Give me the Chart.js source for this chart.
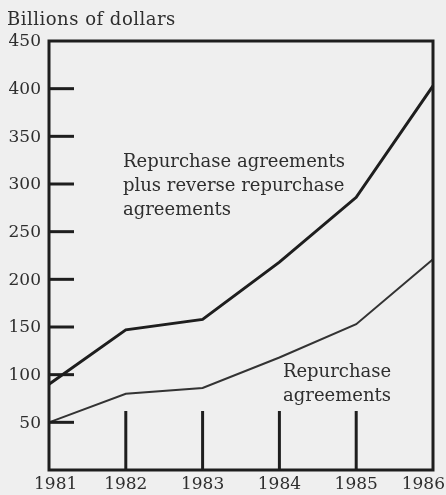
<!DOCTYPE html>
<html>
<head>
<meta charset="utf-8">
<script src="https://cdn.jsdelivr.net/npm/chart.js@4/dist/chart.umd.min.js"></script>
<style>
html,body{margin:0;padding:0;background:#efefef;}
#wrap{width:446px;height:495px;position:relative;}
</style>
</head>
<body>
<div id="wrap"><canvas id="c" width="446" height="495"></canvas></div>
<script>
const years = ["1981","1982","1983","1984","1985","1986"];
const repoPlusReverse = [90, 147, 158, 218, 286, 403];
const repoOnly = [50, 80, 86, 118, 153, 221];
const yTicks = [50,100,150,200,250,300,350,400,450];
const yTitle = "Billions of dollars";
const labelUpper = ["Repurchase agreements","plus reverse repurchase","agreements"];
const labelLower = ["Repurchase","agreements"];

const INK = '#1e1e1e';
const TXT = '#2e2e2e';
const FONT = '"DejaVu Serif",serif';

const deco = {
  id:'deco',
  afterDatasetsDraw(chart){
    const ctx = chart.ctx, a = chart.chartArea;
    const xs = chart.scales.x, ys = chart.scales.y;
    ctx.save();
    ctx.strokeStyle = INK; ctx.lineWidth = 3; ctx.lineCap='butt';
    ctx.beginPath();
    ctx.rect(a.left, a.top, a.right-a.left, a.bottom-a.top);
    ctx.stroke();
    yTicks.forEach(v=>{
      if(v>=450) return;
      const y = ys.getPixelForValue(v);
      ctx.beginPath(); ctx.moveTo(a.left, y); ctx.lineTo(a.left+25, y); ctx.stroke();
    });
    years.forEach((yr,i)=>{
      if(i===0||i===years.length-1) return;
      const x = xs.getPixelForValue(i);
      ctx.beginPath(); ctx.moveTo(x, a.bottom); ctx.lineTo(x, a.bottom-59); ctx.stroke();
    });
    ctx.fillStyle = TXT;
    ctx.font = '17px '+FONT;
    ctx.textAlign='right'; ctx.textBaseline='middle';
    yTicks.forEach(v=>{
      ctx.fillText(String(v), a.left-8, ys.getPixelForValue(v)+1);
    });
    ctx.textAlign='center'; ctx.textBaseline='middle';
    years.forEach((yr,i)=>{
      let x = xs.getPixelForValue(i);
      const w = ctx.measureText(yr).width;
      x = Math.max(x, 34 + w/2);
      x = Math.min(x, 445 - w/2);
      ctx.fillText(yr, x, a.bottom+15);
    });
    ctx.font = '18px '+FONT;
    ctx.letterSpacing = '0.5px';
    ctx.textAlign='left'; ctx.textBaseline='alphabetic';
    ctx.fillText(yTitle, 7, 25);
    ctx.letterSpacing = '0px';
    ctx.textAlign='left'; ctx.textBaseline='middle';
    labelUpper.forEach((t,k)=> ctx.fillText(t, 123, 162 + k*24));
    ctx.textAlign='center';
    labelLower.forEach((t,k)=> ctx.fillText(t, 337, 372 + k*24));
    ctx.restore();
  }
};

new Chart(document.getElementById('c'), {
  type:'line',
  data:{
    labels: years,
    datasets:[
      {data: repoPlusReverse, borderColor: INK, borderWidth: 3, pointRadius:0, tension:0, fill:false},
      {data: repoOnly, borderColor: '#333', borderWidth: 2, pointRadius:0, tension:0, fill:false}
    ]
  },
  options:{
    responsive:false, animation:false, devicePixelRatio:1,
    layout:{padding:{left:49, top:41, right:13, bottom:25}},
    plugins:{legend:{display:false}, tooltip:{enabled:false}},
    scales:{
      x:{type:'category', display:false, offset:false},
      y:{type:'linear', display:false, min:0, max:450}
    }
  },
  plugins:[deco]
});
</script>
</body>
</html>
